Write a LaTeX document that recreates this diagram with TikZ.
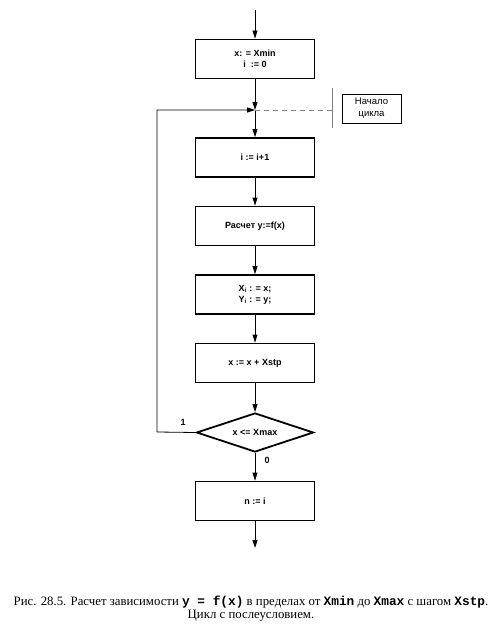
\documentclass[tikz,border=0pt]{standalone}
\usepackage{fontspec}
\setmainfont{Liberation Serif}
\setsansfont{Liberation Sans}
\setmonofont{Liberation Mono}
\usetikzlibrary{shapes.geometric, arrows.meta}
\tikzstyle{process} = [rectangle, minimum width=119pt, minimum height=39pt, text centered, align=center, draw=black, line width=1.8pt, font=\sffamily\bfseries\fontsize{9}{11}\selectfont]
\tikzstyle{decision} = [diamond, aspect=3, inner sep=0pt, minimum width=117pt, minimum height=39pt, text centered, draw=black, line width=1.8pt, font=\sffamily\bfseries\fontsize{9}{11}\selectfont]
\tikzstyle{note} = [rectangle, minimum width=59pt, minimum height=29pt, align=center, draw=black, line width=0.5pt, font=\sffamily\fontsize{9.5}{12}\selectfont]
\tikzstyle{branch} = [font=\sffamily\bfseries\fontsize{9}{11}\selectfont]
\tikzstyle{caption} = [font=\fontsize{12.8}{14}\selectfont]
\tikzstyle{arrow} = [line width=0.8pt, -{Triangle[length=8pt,width=5pt]}]
\newcommand{\code}[1]{\texttt{\textbf{#1}}}

\begin{document}
\begin{tikzpicture}[x=1pt, y=1pt, node distance=68.5pt]
    \useasboundingbox (0,0) rectangle (500,-631);
    %nodes
    \coordinate (in) at (255,-10);
    \node (init) [process] at (255,-59) {x: = Xmin\\i\ \ := 0};
    \coordinate (loop) at (255,-110);
    \node (inc) [process, below of=init, yshift=-30pt] {i := i+1};
    \node (calc) [process, below of=inc] {Расчет y:=f(x)};
    \node (store) [process, below of=calc] {X\textsubscript{i} : = x;\\Y\textsubscript{i} : = y;};
    \node (step) [process, below of=store] {x := x + Xstp};
    \node (check) [decision, below of=step, yshift=-1pt] {x <= Xmax};
    \node (done) [process, below of=check] {n := i};
    \coordinate (out) at (255,-548);
    \coordinate (back) at (157,-432);
    \node (one) [branch] at (183,-422) {1};
    \node (zero) [branch] at (267,-460) {0};

    % loop start mark
    \coordinate (bartop) at (332,-88);
    \coordinate (barbot) at (332,-128);
    \node (start) [note] at (371.5,-108.5) {Начало\\цикла};

    % caption
    \node (cap1) [caption] at (251,-602) {Рис. 28.5. Расчет зависимости \code{y = f(x)} в пределах от \code{Xmin} до \code{Xmax} с шагом \code{Xstp}.};
    \node (cap2) [caption] at (251,-616) {Цикл с послеусловием.};

    %arrows
    \draw [arrow] (in) -- (init);
    \draw [arrow] (init) -- (loop);
    \draw [arrow] (loop) -- (inc);
    \draw [arrow] (inc) -- (calc);
    \draw [arrow] (calc) -- (store);
    \draw [arrow] (store) -- (step);
    \draw [arrow] (step) -- (check);
    \draw [arrow] (check) -- (done);
    \draw [arrow] (done) -- (out);
    \draw [arrow] (check.west) -- (back) |- (loop);

    \draw [gray, line width=0.8pt] (bartop) -- (barbot);
    \draw [gray, line width=0.8pt, dash pattern=on 5pt off 4pt] (loop) -- (loop -| bartop);
\end{tikzpicture}
\end{document}
